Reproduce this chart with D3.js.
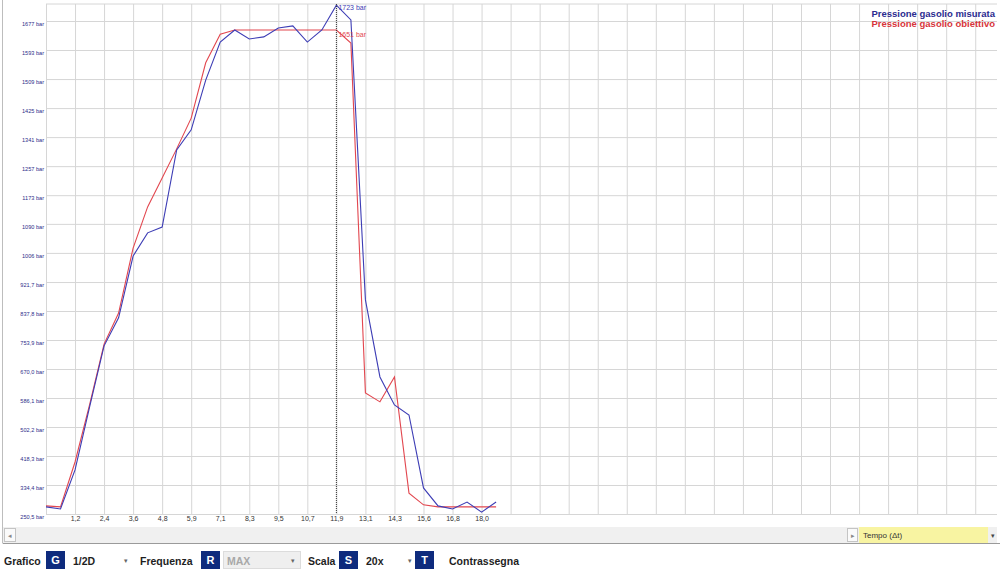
<!DOCTYPE html>
<html>
<head>
<meta charset="utf-8">
<script src="https://cdn.jsdelivr.net/npm/d3@7"></script>
<style>
  body { margin: 0; background: #fff; }
  svg { display: block; font-family: "Liberation Sans", Arial, sans-serif; }
</style>
</head>
<body>
<div id="chart"></div>
<script>
// x tick labels (seconds), one every second sample
const xLabels = ['1,2', '2,4', '3,6', '4,8', '5,9', '7,1', '8,3', '9,5', '10,7', '11,9', '13,1', '14,3', '15,6', '16,8', '18,0']
// y ticks (bar) and their labels
const yTicks = [250.5, 334.4, 418.3, 502.2, 586.1, 670.0, 753.9, 837.8, 921.7, 1006, 1090, 1173, 1257, 1341, 1425, 1509, 1593, 1677]
const yLabels = ['250,5 bar', '334,4 bar', '418,3 bar', '502,2 bar', '586,1 bar', '670,0 bar', '753,9 bar', '837,8 bar', '921,7 bar',
    '1006 bar', '1090 bar', '1173 bar', '1257 bar', '1341 bar', '1425 bar', '1509 bar', '1593 bar', '1677 bar']

// Pressione gasolio misurata (bar)
const measured = [271, 265, 378, 560, 737, 818, 997, 1064, 1081, 1304, 1362, 1506, 1616, 1651, 1625, 1631,
    1657, 1663, 1616, 1651, 1723, 1680, 870, 647, 566, 537, 326, 274, 265, 285, 256, 285]
// Pressione gasolio obiettivo (bar)
const target = [274, 271, 401, 566, 742, 832, 1020, 1139, 1223, 1307, 1396, 1556, 1639, 1651, 1651, 1651,
    1651, 1651, 1651, 1651, 1651, 1613, 601, 575, 647, 311, 277, 271, 271, 271, 271, 271]

const cursorIndex = 20
const cursorLabels = ['1723 bar', '1651 bar']
const legendNames = ['Pressione gasolio misurata', 'Pressione gasolio obiettivo']

const blue = '#3d3db5', red = '#e2474f'

const width = 1000, height = 569
const plot = { left: 46, top: 4, right: 997, bottom: 514 }

const svg = d3.select('#chart')
    .append('svg')
    .attr('width', width)
    .attr('height', height)

const x = d3.scaleLinear()
    .domain([0, 65.5])
    .range([plot.left, plot.right])

const y = d3.scaleLinear()
    .domain([250.5, 1677])
    .range([plot.bottom, 21])

// grid
const gridX = d3.range(0, 66, 2)
svg.append('g')
    .attr('transform', 'translate(0,' + plot.bottom + ')')
    .call(d3.axisBottom(x).tickValues(gridX).tickSize(-(plot.bottom - plot.top)).tickFormat(''))
    .call(g => g.select('.domain').remove())
    .call(g => g.selectAll('line').attr('stroke', '#d6d6d6'))

svg.append('g')
    .attr('transform', 'translate(' + plot.left + ',0)')
    .call(d3.axisLeft(y).tickValues(yTicks).tickSize(-(plot.right - plot.left)).tickFormat(''))
    .call(g => g.select('.domain').remove())
    .call(g => g.selectAll('line').attr('stroke', '#d6d6d6'))

svg.append('line')
    .attr('x1', plot.left).attr('x2', plot.right)
    .attr('y1', plot.top).attr('y2', plot.top)
    .attr('stroke', '#d6d6d6')

// x labels
svg.append('g')
    .attr('transform', 'translate(0,' + plot.bottom + ')')
    .call(d3.axisBottom(x).tickValues(d3.range(2, 31, 2)).tickFormat((d, i) => xLabels[i]).tickSize(0).tickPadding(2))
    .call(g => g.select('.domain').remove())
    .call(g => g.selectAll('text').attr('fill', '#333').style('font-size', '7px'))

// y labels
svg.append('g')
    .attr('transform', 'translate(' + (plot.left - 2) + ',3)')
    .call(d3.axisLeft(y).tickValues(yTicks).tickFormat((d, i) => yLabels[i]).tickSize(0).tickPadding(0))
    .call(g => g.select('.domain').remove())
    .call(g => g.selectAll('text').attr('fill', '#2e2e8a').style('font-size', '5.6px'))

// series
const line = d3.line()
    .x((d, i) => x(i))
    .y(d => y(d))

svg.append('path')
    .datum(target)
    .attr('fill', 'none')
    .attr('stroke', red)
    .attr('stroke-width', 1.1)
    .attr('d', line)

svg.append('path')
    .datum(measured)
    .attr('fill', 'none')
    .attr('stroke', blue)
    .attr('stroke-width', 1.1)
    .attr('d', line)

// cursor
svg.append('line')
    .attr('x1', x(cursorIndex)).attr('x2', x(cursorIndex))
    .attr('y1', plot.top).attr('y2', plot.bottom)
    .attr('stroke', '#333')
    .attr('stroke-dasharray', '1,1')

svg.append('text')
    .attr('x', x(cursorIndex) + 2).attr('y', y(measured[cursorIndex]) + 5)
    .attr('fill', blue).style('font-size', '7px')
    .text(cursorLabels[0])

svg.append('text')
    .attr('x', x(cursorIndex) + 2).attr('y', y(target[cursorIndex]) + 7)
    .attr('fill', red).style('font-size', '7px')
    .text(cursorLabels[1])

// legend
svg.selectAll('.legend')
    .data(legendNames)
    .enter()
    .append('text')
    .attr('x', 995)
    .attr('y', (d, i) => 17 + i * 10)
    .attr('text-anchor', 'end')
    .attr('fill', (d, i) => i === 0 ? '#2b2b8f' : '#d7353a')
    .style('font-size', '9.5px')
    .style('font-weight', 'bold')
    .text(d => d)

// scrollbar strip
svg.append('rect').attr('x', 3).attr('y', 527).attr('width', 994).attr('height', 16).attr('fill', '#f0f0f0')
svg.append('rect').attr('x', 4.5).attr('y', 528.5).attr('width', 11).attr('height', 13).attr('fill', '#fafafa').attr('stroke', '#c4c4c4')
svg.append('text').attr('x', 10).attr('y', 538).attr('text-anchor', 'middle').attr('fill', '#888').style('font-size', '7px').text('◂')
svg.append('rect').attr('x', 847.5).attr('y', 528.5).attr('width', 10).attr('height', 13).attr('fill', '#fafafa').attr('stroke', '#c4c4c4')
svg.append('text').attr('x', 852.5).attr('y', 538).attr('text-anchor', 'middle').attr('fill', '#888').style('font-size', '7px').text('▸')
svg.append('rect').attr('x', 859).attr('y', 527).attr('width', 129).attr('height', 16).attr('fill', '#f8f4a2')
svg.append('text').attr('x', 863).attr('y', 538).attr('fill', '#333').style('font-size', '8px').text('Tempo (Δt)')
svg.append('text').attr('x', 993).attr('y', 538).attr('text-anchor', 'middle').attr('fill', '#444').style('font-size', '7px').text('▾')
svg.append('line').attr('x1', 3).attr('x2', 1000).attr('y1', 543.5).attr('y2', 543.5).attr('stroke', '#9a9a9a')
svg.append('line').attr('x1', 2.5).attr('x2', 2.5).attr('y1', 0).attr('y2', 543.5).attr('stroke', '#bdbdbd')

// toolbar
const toolbarTexts = [
    { x: 4, t: 'Grafico' }, { x: 73, t: '1/2D' }, { x: 140, t: 'Frequenza' },
    { x: 308, t: 'Scala' }, { x: 366, t: '20x' }, { x: 449, t: 'Contrassegna' }
]
const toolbarKeys = [{ x: 46, t: 'G' }, { x: 201, t: 'R' }, { x: 339, t: 'S' }, { x: 415, t: 'T' }]
const toolbarArrows = [126, 293, 410]

svg.append('rect').attr('x', 223.5).attr('y', 551.5).attr('width', 77).attr('height', 17).attr('fill', '#efefef').attr('stroke', '#dcdcdc')
svg.append('text').attr('x', 227).attr('y', 564.5).attr('fill', '#a8a8a8').style('font-size', '10.5px').style('font-weight', 'bold').text('MAX')

svg.selectAll('.tb-text')
    .data(toolbarTexts)
    .enter()
    .append('text')
    .attr('x', d => d.x).attr('y', 564.5)
    .attr('fill', '#1e1e1e')
    .style('font-size', '10.5px').style('font-weight', 'bold')
    .text(d => d.t)

const keys = svg.selectAll('.tb-key')
    .data(toolbarKeys)
    .enter()
    .append('g')
keys.append('rect')
    .attr('x', d => d.x).attr('y', 551).attr('width', 19).attr('height', 18)
    .attr('fill', '#0e2b7d')
keys.append('text')
    .attr('x', d => d.x + 9.5).attr('y', 564)
    .attr('text-anchor', 'middle')
    .attr('fill', '#fff')
    .style('font-size', '11px').style('font-weight', 'bold')
    .text(d => d.t)

svg.selectAll('.tb-arrow')
    .data(toolbarArrows)
    .enter()
    .append('text')
    .attr('x', d => d).attr('y', 563)
    .attr('text-anchor', 'middle')
    .attr('fill', '#666')
    .style('font-size', '7px')
    .text('▾')
</script>
</body>
</html>
